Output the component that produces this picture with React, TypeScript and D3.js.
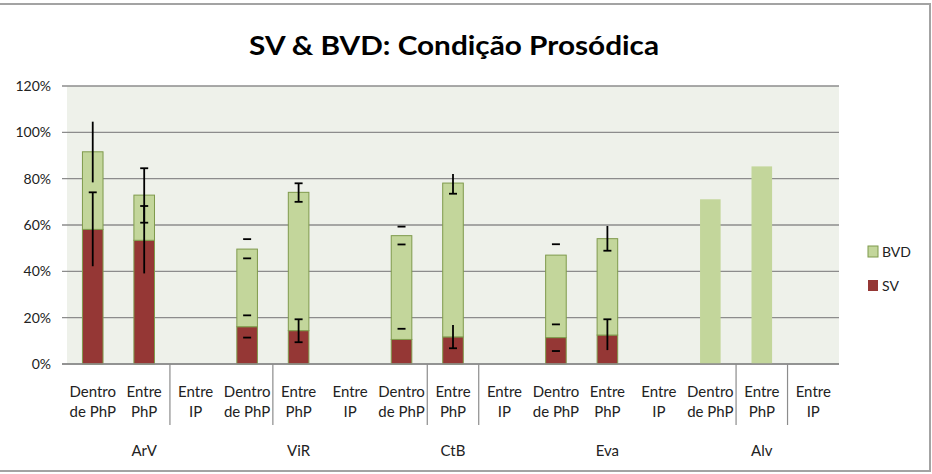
import React from "react";
import * as d3 from "d3";

const line1 = ["Dentro","Entre","Entre","Dentro","Entre","Entre","Dentro","Entre","Entre","Dentro","Entre","Entre","Dentro","Entre","Entre"];
const line2 = ["de PhP","PhP","IP","de PhP","PhP","IP","de PhP","PhP","IP","de PhP","PhP","IP","de PhP","PhP","IP"];
const groups = ["ArV","ViR","CtB","Eva","Alv"];
const svValues = [58.1, 53.4, 0, 16.1, 14.4, 0, 10.6, 11.7, 0, 11.4, 12.5, 0, 0, 0, 0];
const bvdValues = [33.5, 19.5, 0, 33.5, 59.7, 0, 44.8, 66.4, 0, 35.6, 41.6, 0, 71.1, 85.3, 0];
const yTicks = [0, 20, 40, 60, 80, 100, 120];
const dividersAfter = [2, 4, 7, 8, 13, 14];
const noOutline = [12, 13];

// error bars: category index, low, high, caps shown, vertical line shown
const errCat = [0, 0, 1, 1, 3, 3, 4, 4, 6, 6, 7, 7, 9, 9, 10, 10];
const errLo = [78.4, 42.2, 61.0, 39.1, 45.6, 11.4, 70.0, 9.4, 51.6, 15.2, 73.5, 6.8, 51.7, 5.6, 48.9, 6.0];
const errHi = [104.6, 74.1, 84.5, 68.2, 53.9, 21.0, 78.0, 19.3, 59.3, 15.2, 82.0, 16.8, 51.7, 17.1, 59.6, 19.3];
const errCaps = ["none","hi","both","hi","both","both","both","both","both","hi","lo","lo","hi","both","lo","hi"];
const errLine = [true, true, true, true, false, false, true, true, false, false, true, true, false, false, true, true];

const W = 932, H = 474;
const FONT = "Lato, 'Open Sans', sans-serif";

export default function App() {
  const idx = d3.range(line1.length).map(String);
  const x = d3.scaleBand<string>().domain(idx).range([67, 839]).padding(0);
  const y = d3.scaleLinear().domain([0, 120]).range([364, 86]);
  const step = x.step();
  const bw = step * 0.4;
  const cx = (i: number) => (x(String(i)) as number) + step / 2;
  const green = "#c3d69b";
  const red = "#953735";
  const edge = "#7f9a4c";

  return (
    <svg width={W} height={H} style={{ position: "fixed", left: 0, top: 0, background: "#fff" }} fontFamily={FONT}>
      <rect x={-3} y={4} width={933} height={467} fill="#fff" stroke="#a3a3a3" strokeWidth={2} />
      <text x={454} y={55} textAnchor="middle" fontSize={27} fontWeight="bold" fill="#000" textLength={410} lengthAdjust="spacingAndGlyphs">
        SV &amp; BVD: Condição Prosódica
      </text>
      <rect x={67} y={86} width={772} height={278} fill="#eef1ea" />
      {yTicks.map(t => (
        <g key={t}>
          <line x1={62} x2={839} y1={y(t)} y2={y(t)} stroke="#8c8c8c" strokeWidth={1.4} />
          <text x={51} y={y(t) + 5} textAnchor="end" fontSize={14} fill="#222">{t}%</text>
        </g>
      ))}
      {idx.map((k, i) => {
        const x0 = cx(i) - bw / 2;
        const outlined = !noOutline.includes(i);
        return (
          <g key={k}>
            {svValues[i] > 0 && (
              <rect x={x0} y={y(svValues[i])} width={bw} height={y(0) - y(svValues[i])} fill={red}
                stroke={outlined ? edge : "none"} strokeWidth={1} />
            )}
            {bvdValues[i] > 0 && (
              <rect x={x0} y={y(svValues[i] + bvdValues[i])} width={bw} height={y(svValues[i]) - y(svValues[i] + bvdValues[i])}
                fill={green} stroke={outlined ? edge : "none"} strokeWidth={1} />
            )}
          </g>
        );
      })}
      {errCat.map((c, j) => {
        const xc = cx(c);
        const caps = errCaps[j];
        return (
          <g key={j} stroke="#000" strokeWidth={1.8}>
            {errLine[j] && <line x1={xc} x2={xc} y1={y(errLo[j])} y2={y(errHi[j])} />}
            {(caps === "both" || caps === "lo") && <line x1={xc - 4} x2={xc + 4} y1={y(errLo[j])} y2={y(errLo[j])} />}
            {(caps === "both" || caps === "hi") && <line x1={xc - 4} x2={xc + 4} y1={y(errHi[j])} y2={y(errHi[j])} />}
          </g>
        );
      })}
      <line x1={62} x2={839} y1={364} y2={364} stroke="#8c8c8c" strokeWidth={1.4} />
      {dividersAfter.map(d => {
        const xv = (x(String(d - 1)) as number) + step;
        return <line key={d} x1={xv} x2={xv} y1={364} y2={425} stroke="#8c8c8c" strokeWidth={1.2} />;
      })}
      {idx.map((k, i) => (
        <g key={k} fontSize={15} fill="#222" textAnchor="middle">
          <text x={cx(i)} y={397}>{line1[i]}</text>
          <text x={cx(i)} y={417}>{line2[i]}</text>
        </g>
      ))}
      {groups.map((g, gi) => (
        <text key={g} x={cx(gi * 3 + 1)} y={456} textAnchor="middle" fontSize={15} fill="#222">{g}</text>
      ))}
      <rect x={868} y={246} width={10} height={11} fill={green} stroke={edge} strokeWidth={1} />
      <text x={882} y={257} fontSize={14} fill="#222">BVD</text>
      <rect x={868} y={280} width={10} height={11} fill={red} />
      <text x={882} y={291} fontSize={14} fill="#222">SV</text>
    </svg>
  );
}
